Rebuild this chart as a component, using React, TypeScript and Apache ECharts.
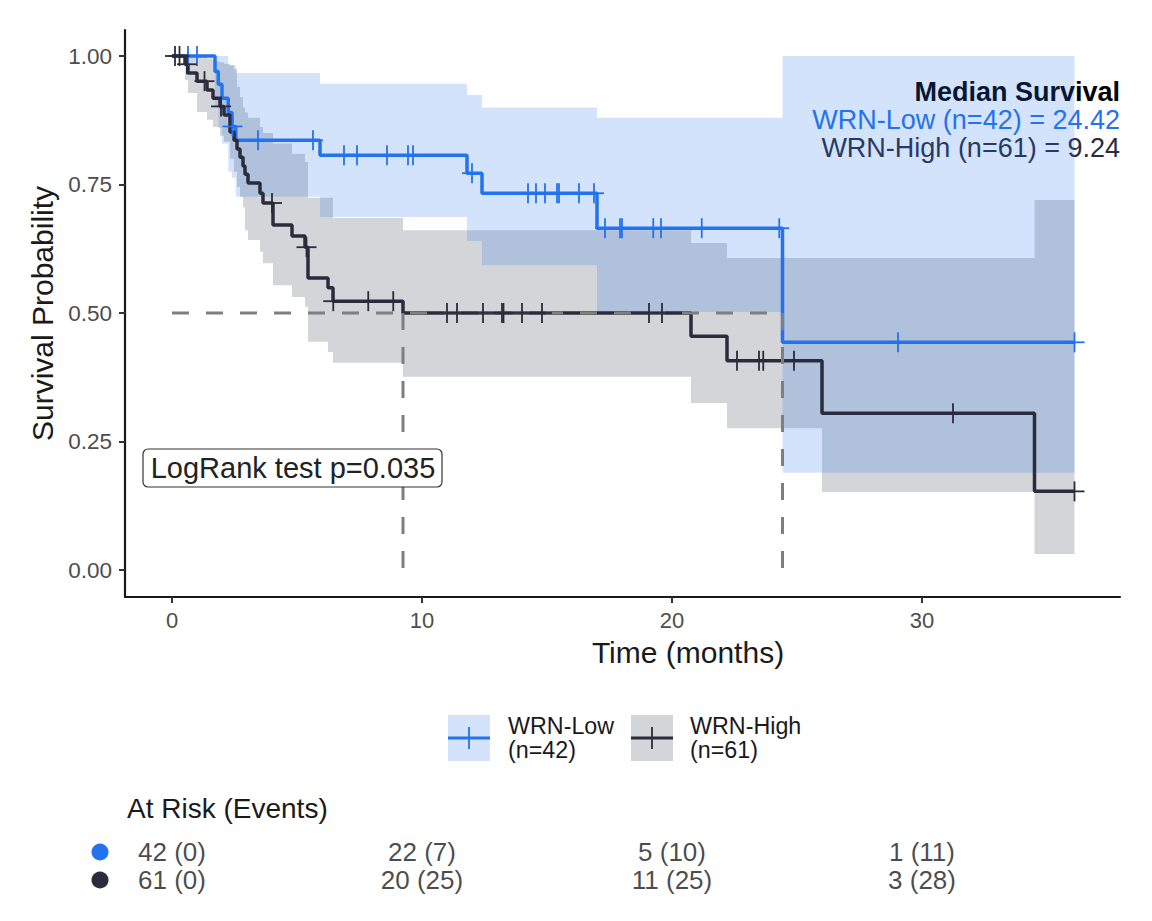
import { useEffect, useRef } from 'react';
import * as echarts from 'echarts';

const BLUE = '#2372ee';
const DARK = '#2a2c3e';
const FONT = '"Liberation Sans", Arial, sans-serif';

// WRN-Low (n=42): step curve and its confidence band (value holds until next time)
const lowTimes = [0, 1.72, 1.85, 2.0, 2.25, 2.4, 2.55, 5.92, 11.8, 12.4, 17.0, 24.42, 36.1];
const lowSurv = [1, 0.97, 0.945, 0.918, 0.89, 0.863, 0.836, 0.807, 0.772, 0.733, 0.665, 0.443, 0.443];
const lowLower = [1, 0.9, 0.86, 0.83, 0.775, 0.763, 0.726, 0.687, 0.64, 0.593, 0.502, 0.189, 0.189];
const lowUpper = [1, 1, 1, 1, 0.982, 0.982, 0.967, 0.946, 0.924, 0.9, 0.88, 1, 1];
const lowCensor = [0.64, 1.0, 2.42, 3.44, 5.64, 6.88, 7.4, 8.6, 9.44, 9.64, 12.0, 14.24, 14.56, 14.92, 15.4, 15.48, 16.28, 16.88, 17.32, 17.92, 18.0, 19.25, 19.56, 21.19, 24.29, 29.04, 36.1];

// WRN-High (n=61)
const highTimes = [0, 0.52, 0.64, 1.0, 1.4, 1.64, 1.92, 2.08, 2.32, 2.48, 2.6, 2.72, 2.84, 2.92, 3.04, 3.52, 3.64, 4.04, 4.8, 5.32, 5.44, 6.24, 6.44, 9.24, 20.76, 22.2, 26.0, 34.5, 36.1];
const highSurv = [1, 0.984, 0.967, 0.951, 0.934, 0.918, 0.902, 0.885, 0.852, 0.836, 0.819, 0.803, 0.786, 0.77, 0.753, 0.733, 0.714, 0.671, 0.65, 0.628, 0.568, 0.549, 0.523, 0.5, 0.455, 0.407, 0.305, 0.153, 0.153];
const highLower = [1, 0.953, 0.928, 0.891, 0.876, 0.862, 0.845, 0.833, 0.8, 0.775, 0.745, 0.726, 0.706, 0.661, 0.642, 0.619, 0.597, 0.554, 0.531, 0.512, 0.444, 0.424, 0.403, 0.376, 0.325, 0.276, 0.152, 0.031, 0.031];
const highUpper = [1, 1, 1, 0.998, 0.995, 0.99, 0.988, 0.985, 0.982, 0.975, 0.94, 0.92, 0.9, 0.89, 0.88, 0.862, 0.85, 0.83, 0.81, 0.794, 0.724, 0.724, 0.685, 0.661, 0.636, 0.607, 0.607, 0.72, 0.72];
const highCensor = [0.12, 0.3, 0.6, 1.3, 1.96, 4.0, 5.38, 6.45, 7.85, 8.85, 11.0, 11.4, 12.44, 13.2, 13.26, 14.0, 14.8, 19.08, 19.6, 22.6, 23.48, 23.65, 24.88, 31.24, 36.1];

const medianLow = 24.42;
const medianHigh = 9.24;
const pValue = '0.035';

const xTicks = [0, 10, 20, 30];
const yTicks = [0, 0.25, 0.5, 0.75, 1];

// at-risk table
const riskTimes = [0, 10, 20, 30];
const lowAtRisk = [42, 22, 5, 1];
const lowEvents = [0, 7, 10, 11];
const highAtRisk = [61, 20, 11, 3];
const highEvents = [0, 25, 25, 28];

const X_MIN = -1.88;
const X_MAX = 37.92;

const stepAt = (times: number[], surv: number[], t: number) => {
    let v = surv[0];
    for (let i = 0; i < times.length; i++) {
        if (times[i] <= t) v = surv[i];
    }
    return v;
};

const bandSeries = (times: number[], lower: number[], upper: number[], fill: string) => ({
    type: 'custom',
    silent: true,
    z: 1,
    data: times.map((t, i) => [t, lower[i], upper[i]]),
    encode: { x: 0, y: [1, 2] },
    renderItem: (params: any, api: any) => {
        if (params.dataIndex !== 0) return null;
        const pts: number[][] = [];
        for (let i = 0; i < times.length - 1; i++) {
            pts.push(api.coord([times[i], upper[i]]), api.coord([times[i + 1], upper[i]]));
        }
        for (let i = times.length - 2; i >= 0; i--) {
            pts.push(api.coord([times[i + 1], lower[i]]), api.coord([times[i], lower[i]]));
        }
        return { type: 'polygon', shape: { points: pts }, style: { fill } };
    },
});

const curveSeries = (times: number[], surv: number[], color: string) => ({
    type: 'line',
    step: 'end',
    symbol: 'none',
    silent: true,
    z: 3,
    data: times.map((t, i) => [t, surv[i]]),
    lineStyle: { color, width: 3.5 },
});

const censorSeries = (times: number[], surv: number[], censor: number[], color: string) => ({
    type: 'custom',
    silent: true,
    z: 5,
    data: censor.map((t) => [t, stepAt(times, surv, t)]),
    encode: { x: 0, y: 1 },
    renderItem: (_params: any, api: any) => {
        const [x, y] = api.coord([api.value(0), api.value(1)]);
        const s = 10;
        return {
            type: 'group',
            children: [
                { type: 'line', shape: { x1: x - s, y1: y, x2: x + s, y2: y }, style: { stroke: color, lineWidth: 1.8 } },
                { type: 'line', shape: { x1: x, y1: y - s, x2: x, y2: y + s }, style: { stroke: color, lineWidth: 1.8 } },
            ],
        };
    },
});

const dashSeries = (data: number[][]) => ({
    type: 'line',
    symbol: 'none',
    silent: true,
    z: 4,
    data,
    lineStyle: { color: '#7f7f7f', width: 3, type: [17, 17] },
});

const txt = (text: string, x: number, y: number, size: number, fill: string, align = 'left', weight = 'normal') => ({
    type: 'text',
    x,
    y,
    style: {
        text,
        fill,
        font: `${weight} ${size}px ${FONT}`,
        align,
        textAlign: align,
        verticalAlign: 'middle',
        textVerticalAlign: 'middle',
    },
});

const legendKey = (x: number, color: string, fill: string) => [
    { type: 'rect', shape: { x, y: 715, width: 42, height: 46 }, style: { fill } },
    { type: 'line', shape: { x1: x, y1: 738, x2: x + 42, y2: 738 }, style: { stroke: color, lineWidth: 3 } },
    { type: 'line', shape: { x1: x + 21, y1: 727, x2: x + 21, y2: 749 }, style: { stroke: color, lineWidth: 1.8 } },
];

const App = () => {
    const chartRef = useRef<HTMLDivElement | null>(null);

    useEffect(() => {
        const chart = echarts.init(chartRef.current!, undefined, { renderer: 'svg' });

        const riskData = [
            ...riskTimes.map((t, i) => ({ value: [t, 'WRN-Low'], label: { formatter: `${lowAtRisk[i]} (${lowEvents[i]})` } })),
            ...riskTimes.map((t, i) => ({ value: [t, 'WRN-High'], label: { formatter: `${highAtRisk[i]} (${highEvents[i]})` } })),
        ];

        const option: any = {
            animation: false,
            textStyle: { fontFamily: FONT },
            grid: [
                { left: 125, top: 30, width: 995, height: 567 },
                { left: 125, top: 838, width: 995, height: 56 },
            ],
            xAxis: [
                {
                    type: 'value',
                    min: X_MIN,
                    max: X_MAX,
                    splitLine: { show: false },
                    axisLine: { onZero: false, lineStyle: { color: '#1a1a1a', width: 2.2 } },
                    axisTick: { customValues: xTicks, length: 6, lineStyle: { color: '#333', width: 2 } },
                    axisLabel: { customValues: xTicks, fontSize: 22, color: '#4d4d4d', margin: 12, fontFamily: FONT },
                },
                { type: 'value', gridIndex: 1, min: X_MIN, max: X_MAX, show: false, splitLine: { show: false } },
            ],
            yAxis: [
                {
                    type: 'value',
                    min: -0.0525,
                    max: 1.0506,
                    name: 'Survival Probability',
                    nameLocation: 'middle',
                    nameGap: 68,
                    nameTextStyle: { fontSize: 30, color: '#1a1a1a', fontFamily: FONT },
                    splitLine: { show: false },
                    axisLine: { show: true, onZero: false, lineStyle: { color: '#1a1a1a', width: 2.2 } },
                    axisTick: { show: true, customValues: yTicks, length: 6, lineStyle: { color: '#333', width: 2 } },
                    axisLabel: {
                        customValues: yTicks,
                        fontSize: 22.5,
                        color: '#4d4d4d',
                        margin: 13,
                        fontFamily: FONT,
                        formatter: (v: number) => v.toFixed(2),
                    },
                },
                { type: 'category', gridIndex: 1, data: ['WRN-Low', 'WRN-High'], inverse: true, show: false },
            ],
            series: [
                bandSeries(highTimes, highLower, highUpper, 'rgba(42,44,62,0.2)'),
                bandSeries(lowTimes, lowLower, lowUpper, 'rgba(35,114,238,0.2)'),
                curveSeries(lowTimes, lowSurv, BLUE),
                curveSeries(highTimes, highSurv, DARK),
                dashSeries([[0, 0.5], [medianLow, 0.5]]),
                dashSeries([[medianHigh, 0.5], [medianHigh, 0]]),
                dashSeries([[medianLow, 0.5], [medianLow, 0]]),
                censorSeries(lowTimes, lowSurv, lowCensor, BLUE),
                censorSeries(highTimes, highSurv, highCensor, DARK),
                {
                    type: 'scatter',
                    xAxisIndex: 1,
                    yAxisIndex: 1,
                    silent: true,
                    symbolSize: 1,
                    itemStyle: { color: 'rgba(0,0,0,0)' },
                    label: { show: true, position: 'inside', fontSize: 26, color: '#1a1a1a', fontFamily: FONT },
                    data: riskData,
                },
            ],
            graphic: [
                txt('Time (months)', 688, 652, 30, '#1a1a1a', 'center'),
                txt('Median Survival', 1120, 92, 27, '#000', 'right', 'bold'),
                txt(`WRN-Low (n=${lowAtRisk[0]}) = ${medianLow.toFixed(2)}`, 1120, 120, 27, BLUE, 'right'),
                txt(`WRN-High (n=${highAtRisk[0]}) = ${medianHigh.toFixed(2)}`, 1120, 148, 27, DARK, 'right'),
                {
                    type: 'rect',
                    shape: { x: 143, y: 449, width: 299, height: 38, r: 5 },
                    style: { fill: '#fff', stroke: '#333', lineWidth: 1.2 },
                    z: 10,
                },
                { ...txt(`LogRank test p=${pValue}`, 293, 468, 29, '#222', 'center'), z: 11 },
                ...legendKey(448, BLUE, 'rgba(35,114,238,0.2)'),
                txt('WRN-Low', 508, 726, 23.3, '#1a1a1a'),
                txt(`(n=${lowAtRisk[0]})`, 508, 750, 23.3, '#1a1a1a'),
                ...legendKey(631, DARK, 'rgba(42,44,62,0.2)'),
                txt('WRN-High', 690, 726, 23.3, '#1a1a1a'),
                txt(`(n=${highAtRisk[0]})`, 690, 750, 23.3, '#1a1a1a'),
                txt('At Risk (Events)', 127, 808, 28, '#1a1a1a'),
                { type: 'circle', shape: { cx: 100, cy: 852, r: 8.5 }, style: { fill: BLUE } },
                { type: 'circle', shape: { cx: 100, cy: 880, r: 8.5 }, style: { fill: DARK } },
            ],
        };

        chart.setOption(option);

        return () => {
            chart.dispose();
        };
    }, []);

    return <div ref={chartRef} style={{ position: 'absolute', left: 0, top: 0, width: 1152, height: 921 }} />;
};

export default App;
